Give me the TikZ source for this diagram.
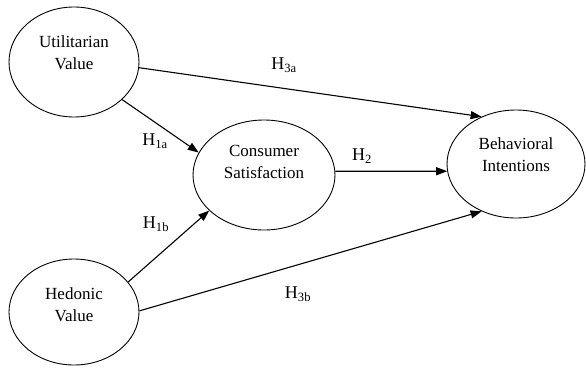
\documentclass[tikz,border=0pt]{standalone}
\usepackage{fontspec}
\setmainfont{Liberation Serif}
\usetikzlibrary{shapes.geometric,arrows.meta}
\begin{document}
\begin{tikzpicture}[x=1pt,y=-1pt,
  construct/.style={draw,ellipse,line width=0.9pt,inner sep=0pt},
  lbl/.style={font=\fontsize{17}{22}\selectfont,align=center,inner sep=0pt},
  hyp/.style={font=\fontsize{18}{20}\selectfont,inner sep=0pt},
  path/.style={line width=1.1pt,-{Triangle[length=11pt,width=8pt]}}]
\useasboundingbox (0,0) rectangle (586,367);
\node[construct,minimum width=130pt,minimum height=110pt] (u) at (74,62) {};
\node[construct,minimum width=142pt,minimum height=110pt] (c) at (264,175) {};
\node[construct,minimum width=138pt,minimum height=108pt] (b) at (516,164) {};
\node[construct,minimum width=130pt,minimum height=106pt] (h) at (74,312) {};
\node[lbl] (ut) at (74,53) {Utilitarian\\Value};
\node[lbl] (ct) at (264,162) {Consumer\\Satisfaction};
\node[lbl] (bt) at (516,155) {Behavioral\\Intentions};
\node[lbl] (ht) at (74,305) {Hedonic\\Value};
\draw[path] (u.-5) -- (b.126);
\draw[path] (u.-38) -- (c.161);
\draw[path] (c.3) -- (b.186);
\draw[path] (h.29) -- (c.213);
\draw[path] (h.1) -- (b.234);
\node[hyp] (l3a) at (284,65) {H\textsubscript{3a}};
\node[hyp] (l1a) at (155,141) {H\textsubscript{1a}};
\node[hyp] (l2) at (362,156) {H\textsubscript{2}};
\node[hyp] (l1b) at (156,224) {H\textsubscript{1b}};
\node[hyp] (l3b) at (298,294) {H\textsubscript{3b}};
\end{tikzpicture}
\end{document}
